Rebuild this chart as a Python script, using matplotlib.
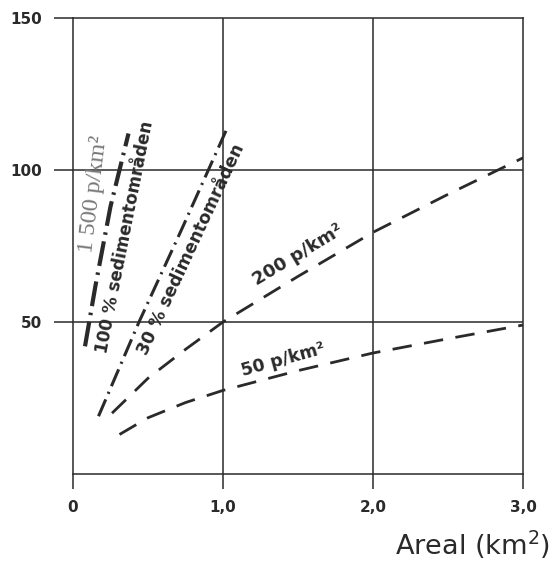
import matplotlib.pyplot as plt

# curves read as (area km2, value)
sed100_x = [0.08, 0.15, 0.25, 0.37]
sed100_y = [42, 62, 88, 112]

sed30_x = [0.17, 0.44, 0.72, 1.03]
sed30_y = [19, 50, 80, 114]

p200_x = [0.26, 0.5, 0.75, 1.0, 1.5, 2.0, 2.5, 3.0]
p200_y = [20, 31.5, 41, 50, 65, 79.5, 92, 104]

p50_x = [0.31, 0.5, 0.75, 1.0, 1.5, 2.0, 2.5, 3.0]
p50_y = [13, 18.5, 23.5, 27.5, 34, 39.8, 44.5, 49]

xticks = [0, 1, 2, 3]
xticklabels = ['0', '1,0', '2,0', '3,0']
yticks = [50, 100, 150]
yticklabels = ['50', '100', '150']

ink = '#2a2a2a'

fig = plt.figure(figsize=(5.54, 5.63), dpi=100)
ax = fig.add_axes([73/554, 1 - 474/563, 450/554, 456/563])
ax.set_xlim(0, 3)
ax.set_ylim(0, 150)

for s in ax.spines.values():
    s.set_color(ink)
    s.set_linewidth(1.1)

# grid
for gx in [1, 2]:
    ax.axvline(gx, color=ink, lw=1.1, zorder=1)
for gy in [50, 100]:
    ax.axhline(gy, color=ink, lw=1.1, zorder=1)

ax.set_xticks(xticks)
ax.set_xticklabels(xticklabels)
ax.set_yticks(yticks)
ax.set_yticklabels(yticklabels)
ax.tick_params(axis='y', length=14, width=1.1, color=ink, pad=8, labelsize=11)
ax.tick_params(axis='x', length=11, width=1.1, color=ink, pad=8, labelsize=11)
for lab in ax.get_xticklabels() + ax.get_yticklabels():
    lab.set_fontweight('bold')
    lab.set_color(ink)

# curves
ax.plot(sed100_x, sed100_y, color=ink, lw=3.0, dashes=(6, 1.6, 0.6, 1.6), zorder=3)
ax.plot(sed30_x, sed30_y, color=ink, lw=2.2, dashes=(6, 2, 0.7, 2), zorder=3)
ax.plot(p200_x, p200_y, color=ink, lw=2.0, dashes=(7, 4.5), zorder=3)
ax.plot(p50_x, p50_y, color=ink, lw=2.0, dashes=(7, 4.5), zorder=3)

# curve labels
ax.text(0.135, 92, '1 500 p/km²', rotation=83, color='#777777', fontsize=17.5,
        family='Liberation Serif', ha='center', va='center', rotation_mode='anchor')
ax.text(0.345, 78, '100 % sedimentområden', rotation=78.8, color=ink, fontsize=12.2,
        fontweight='bold', ha='center', va='center', rotation_mode='anchor')
ax.text(0.79, 74, '30 % sedimentområden', rotation=65, color=ink, fontsize=12.4,
        fontweight='bold', ha='center', va='center', rotation_mode='anchor')
ax.text(1.5, 72, '200 p/km²', rotation=31, color=ink, fontsize=13,
        fontweight='bold', ha='center', va='center', rotation_mode='anchor')
ax.text(1.4, 37.5, '50 p/km²', rotation=15.5, color=ink, fontsize=12.5,
        fontweight='bold', ha='center', va='center', rotation_mode='anchor')

fig.text(550/554, 1 - 545/563, 'Areal (km$^2$)', ha='right', va='center',
         fontsize=19.5, color=ink)

fig.savefig('out.png', dpi=100, facecolor='white')
